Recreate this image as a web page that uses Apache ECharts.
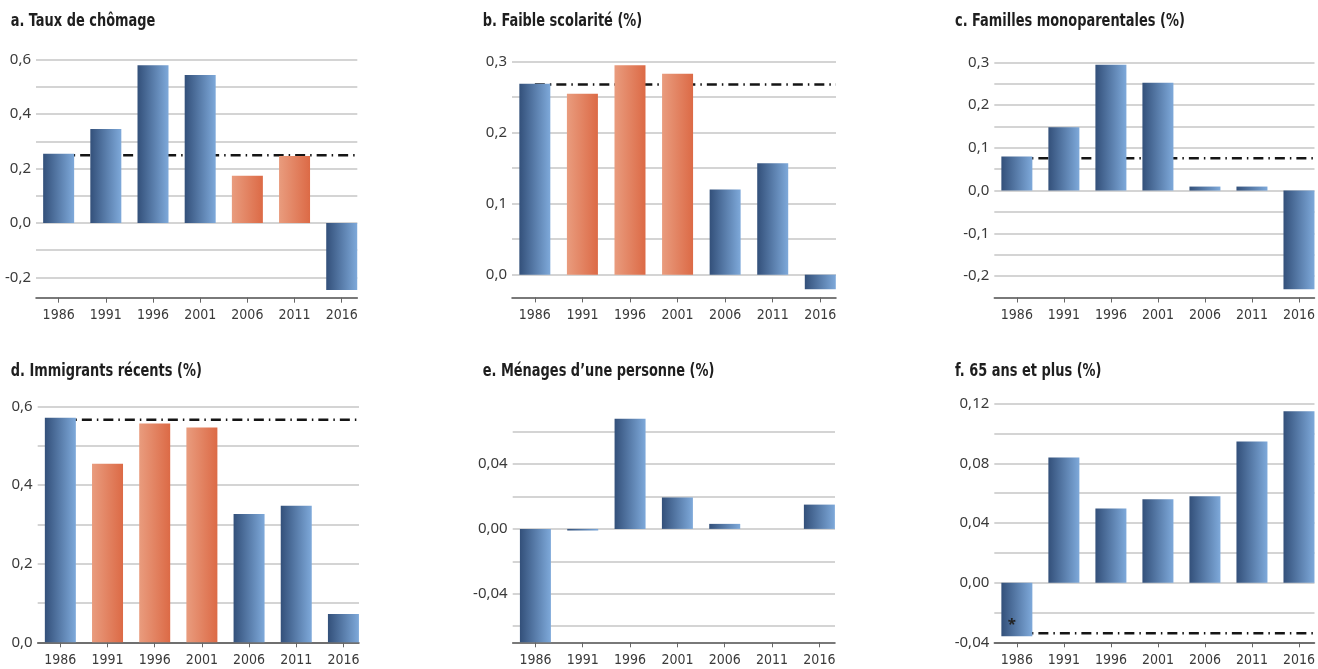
<!DOCTYPE html>
<html><head><meta charset="utf-8">
<script src="https://cdn.jsdelivr.net/npm/echarts@6/dist/echarts.min.js"></script>
<style>html,body{margin:0;padding:0;background:#fff}#c{width:1318px;height:669px}</style>
</head><body><div id="c"></div>
<script>
// ---- data ----
const years = ['1986', '1991', '1996', '2001', '2006', '2011', '2016'];
const titles = ['a. Taux de chômage', 'b. Faible scolarité (%)', 'c. Familles monoparentales (%)',
                'd. Immigrants récents (%)', 'e. Ménages d’une personne (%)', 'f. 65 ans et plus (%)'];
const valuesA = [0.254, 0.345, 0.580, 0.544, 0.173, 0.246, -0.247];
const valuesB = [0.269, 0.255, 0.295, 0.283, 0.120, 0.157, -0.0205];
const valuesC = [0.080, 0.148, 0.2945, 0.252, 0.0094, 0.0094, -0.2305];
const valuesD = [0.571, 0.454, 0.556, 0.546, 0.326, 0.347, 0.072];
const valuesE = [-0.070, -0.001, 0.068, 0.0194, 0.0031, 0, 0.015];
const valuesF = [-0.0359, 0.084, 0.0498, 0.0559, 0.0579, 0.0947, 0.115];
// 1986 reference level (dash-dot line); null = none
const refLevels = [0.249, 0.268, 0.0758, 0.566, null, -0.0339];
// bar colour group: B = blue, O = orange
const groupsA = ['B', 'B', 'B', 'B', 'O', 'O', 'B'];
const groupsB = ['B', 'O', 'O', 'O', 'B', 'B', 'B'];
const groupsC = ['B', 'B', 'B', 'B', 'B', 'B', 'B'];
const groupsD = ['B', 'O', 'O', 'O', 'B', 'B', 'B'];
const groupsE = ['B', 'B', 'B', 'B', 'B', 'B', 'B'];
const groupsF = ['B', 'B', 'B', 'B', 'B', 'B', 'B'];
// y-axis ranges, grid lines and tick labels
const yMins = [-0.275, -0.032, -0.25, 0, -0.07, -0.04];
const yMaxs = [0.6, 0.3, 0.3, 0.6, 0.07, 0.12];
const gridTicksA = [-0.2, -0.1, 0, 0.1, 0.2, 0.3, 0.4, 0.5, 0.6];
const gridTicksB = [0, 0.05, 0.1, 0.15, 0.2, 0.25, 0.3];
const gridTicksC = [-0.2, -0.15, -0.1, -0.05, 0, 0.05, 0.1, 0.15, 0.2, 0.25, 0.3];
const gridTicksD = [0, 0.1, 0.2, 0.3, 0.4, 0.5, 0.6];
const gridTicksE = [-0.06, -0.04, -0.02, 0, 0.02, 0.04, 0.06];
const gridTicksF = [-0.04, -0.02, 0, 0.02, 0.04, 0.06, 0.08, 0.10, 0.12];
const labelTicksA = [-0.2, 0, 0.2, 0.4, 0.6];
const labelTicksB = [0, 0.1, 0.2, 0.3];
const labelTicksC = [-0.2, -0.1, 0, 0.1, 0.2, 0.3];
const labelTicksD = [0, 0.2, 0.4, 0.6];
const labelTicksE = [-0.04, 0, 0.04];
const labelTicksF = [-0.04, 0, 0.04, 0.08, 0.12];
const labelDecimals = [1, 1, 1, 1, 2, 2];
const starNote = '*';   // note on 1986 bar in panel f

// ---- layout ----
const layout = [
  {left: 36,    top: 59.7,  width: 321.3, height: 238,   tx: 10.7,  ty: 21.7},
  {left: 512,   top: 61.7,  width: 324,   height: 235.7, tx: 482.7, ty: 21.7},
  {left: 994.3, top: 62.3,  width: 320.7, height: 235.2, tx: 955,   ty: 21.7},
  {left: 37.7,  top: 406.3, width: 321.3, height: 236,   tx: 10.7,  ty: 371.7},
  {left: 512.7, top: 415.5, width: 322.3, height: 226.8, tx: 482.7, ty: 371.7},
  {left: 994.3, top: 403.7, width: 320.7, height: 238.6, tx: 955,   ty: 371.7}
];
const xMin = -0.48, xMax = 6.33;
const catIdx = years.map((y, i) => i);

const values = [valuesA, valuesB, valuesC, valuesD, valuesE, valuesF];
const groups = [groupsA, groupsB, groupsC, groupsD, groupsE, groupsF];
const gridTicks = [gridTicksA, gridTicksB, gridTicksC, gridTicksD, gridTicksE, gridTicksF];
const labelTicks = [labelTicksA, labelTicksB, labelTicksC, labelTicksD, labelTicksE, labelTicksF];

const blue = new echarts.graphic.LinearGradient(0, 0, 1, 0, [
  {offset: 0, color: '#33507a'}, {offset: 1, color: '#7ea9da'}]);
const orange = new echarts.graphic.LinearGradient(0, 0, 1, 0, [
  {offset: 0, color: '#e99c7e'}, {offset: 1, color: '#dc6a46'}]);

const condensed = "'DejaVu Sans Condensed', 'DejaVu Sans', sans-serif";
const regular = "'Noto Sans', 'Open Sans', sans-serif";

function fmt(v, d) {
  const s = Math.abs(v) < 1e-9 ? (0).toFixed(d) : v.toFixed(d);
  return s.replace('.', ',');
}

const grids = [], xAxes = [], yAxes = [], series = [], graphics = [];
layout.forEach((L, p) => {
  grids.push({left: L.left, top: L.top, width: L.width, height: L.height});
  xAxes.push({
    type: 'value', gridIndex: p, min: xMin, max: xMax,
    axisLine: {show: true, onZero: false, lineStyle: {color: '#4d4d4d', width: 1.5}},
    axisTick: {show: true, customValues: catIdx, length: 5, lineStyle: {color: '#666', width: 1}},
    axisLabel: {customValues: catIdx, formatter: v => years[Math.round(v)], margin: 11,
                fontFamily: condensed, fontSize: 14, color: '#3a3a3a'},
    splitLine: {show: false}
  });
  yAxes.push({
    type: 'value', gridIndex: p, min: yMins[p], max: yMaxs[p],
    axisLine: {show: false},
    axisTick: {show: false, customValues: gridTicks[p]},
    axisLabel: {customValues: labelTicks[p], margin: 5,
                formatter: v => fmt(v, labelDecimals[p]),
                fontFamily: regular, fontSize: 15, color: '#3a3a3a'},
    splitLine: {show: true, lineStyle: {color: '#c6c6c6', width: 1.5}}
  });
  series.push({
    type: 'bar', xAxisIndex: p, yAxisIndex: p, barWidth: 31, z: 3,
    data: values[p].map((v, i) => {
      const item = {value: [i, v], itemStyle: {color: groups[p][i] === 'O' ? orange : blue}};
      if (p === 5 && i === 0) {
        item.label = {show: true, formatter: starNote, position: 'insideBottom', offset: [-5, 1],
                      fontSize: 15, fontWeight: 'bold', color: '#222', fontFamily: regular};
      }
      return item;
    })
  });
  if (refLevels[p] !== null) {
    series.push({
      type: 'line', xAxisIndex: p, yAxisIndex: p, z: 2, symbol: 'none', silent: true,
      data: [[0, refLevels[p]], [xMax, refLevels[p]]],
      lineStyle: {color: '#151515', width: 2.5, type: [10, 5, 1.5, 5]}
    });
  }
  graphics.push({
    type: 'text', x: L.tx, y: L.ty, scaleX: 0.8,
    style: {text: titles[p], fontFamily: condensed, fontWeight: 'bold', fontSize: 18,
            fill: '#1e1e1e', verticalAlign: 'middle'}
  });
});

const chart = echarts.init(document.getElementById('c'), null, {renderer: 'canvas'});
chart.setOption({
  animation: false,
  grid: grids, xAxis: xAxes, yAxis: yAxes, series: series, graphic: graphics
});
</script></body></html>
